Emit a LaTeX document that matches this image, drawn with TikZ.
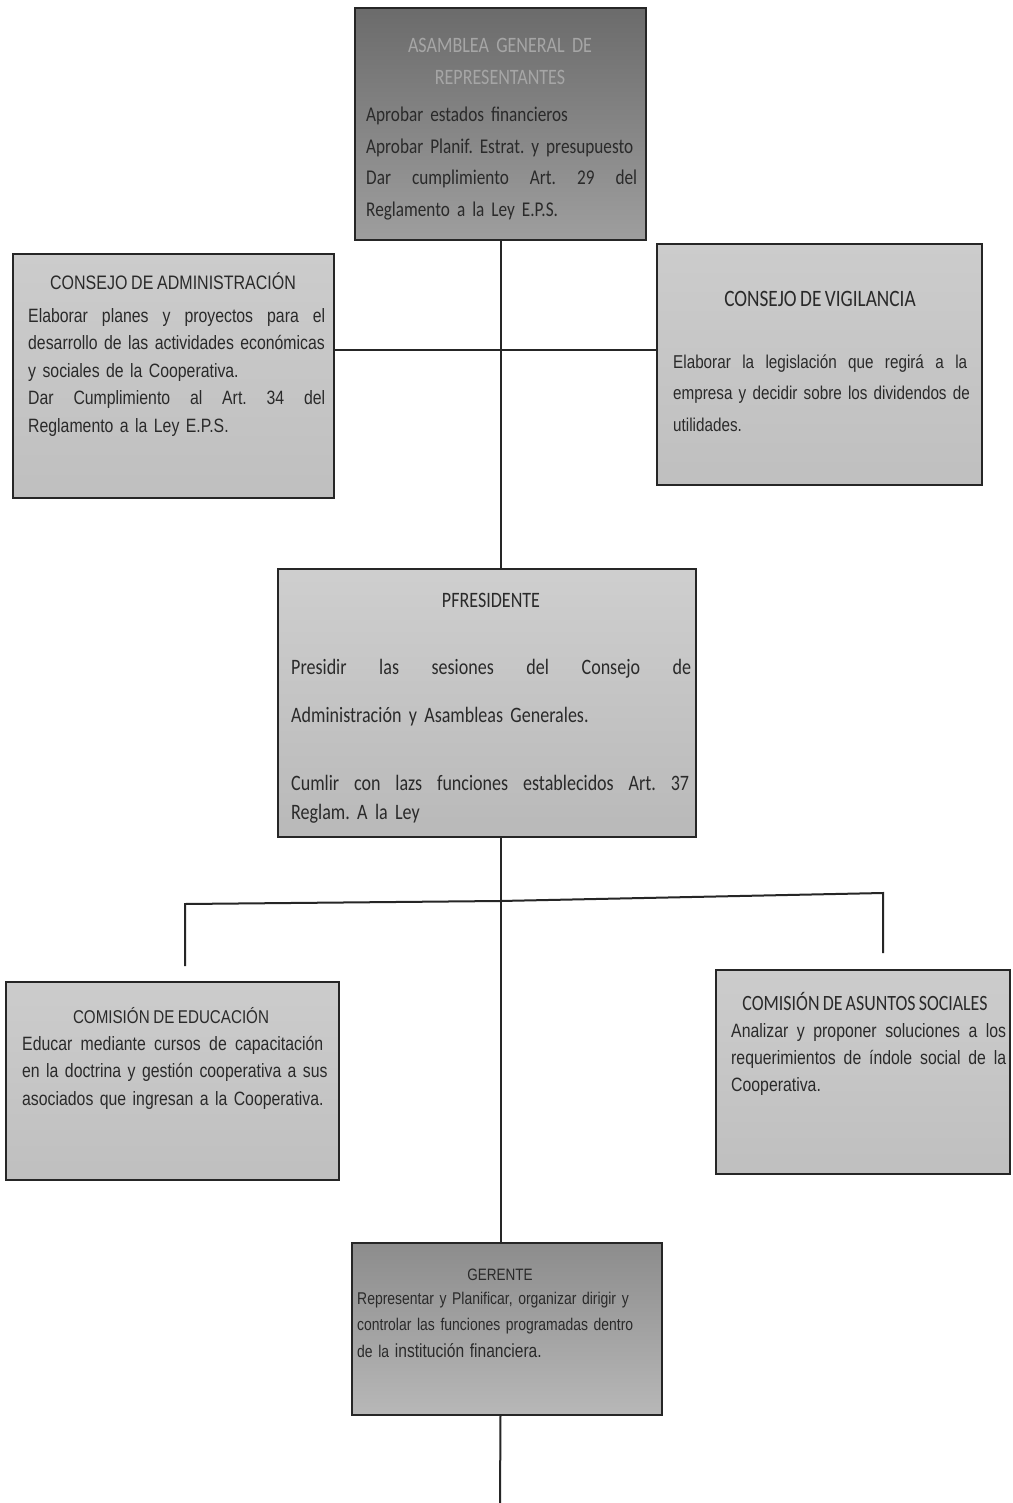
\documentclass[tikz,border=0pt]{standalone}
\usepackage{fontspec}
\newfontfamily\arialn{Liberation Sans}[FakeStretch=0.82, WordSpace=0.85]
\newfontfamily\calib{Carlito}[FakeStretch=0.82, WordSpace=0.8]
\definecolor{ink}{HTML}{2A2A2A}
% a line spread to a fixed width (extra \hfill after each word space)
\newcommand\jl[2]{\leavevmode\hbox to #1pt{#2}}
\begin{document}
\frenchspacing
\begin{tikzpicture}[x=1pt,y=-1pt,
  box/.style={draw=black!85, line width=1.2pt, inner sep=0pt, outer sep=0pt, anchor=north west},
  light/.style={box, top color=gray!40, bottom color=gray!50},
  link/.style={draw=black!85, line width=2pt},
  head/.style={anchor=base, inner sep=0pt, text=ink, align=center},
  body/.style={anchor=base west, inner sep=0pt, text=ink, align=left},
]
\useasboundingbox[fill=white] (0,0) rectangle (1012,1503);

% ---------- boxes ----------
\node[box, top color=black!58, bottom color=black!38,
      minimum width=291, minimum height=232] (asm) at (355,8) {};
\node[light, minimum width=321, minimum height=244] (adm) at (13,254) {};
\node[light, minimum width=325, minimum height=241] (vig) at (657,244) {};
\node[box, top color=gray!38, bottom color=gray!55,
      minimum width=418, minimum height=268] (pres) at (278,569) {};
\node[light, minimum width=333, minimum height=198] (edu) at (6,982) {};
\node[light, minimum width=294, minimum height=204] (soc) at (716,970) {};
\node[box, top color=black!45, bottom color=black!28,
      minimum width=310, minimum height=172] (ger) at (352,1243) {};

% ---------- texts ----------
% Asamblea General
\node[head, text=black!35, text width=290, font=\calib\fontsize{22}{32}\selectfont] (asmh) at (500,53)
  {ASAMBLEA GENERAL DE\\REPRESENTANTES};
\node[body, text width=340, font=\calib\fontsize{21}{31.5}\selectfont] (asmb) at (366,122)
  {Aprobar estados financieros\\
   Aprobar Planif. Estrat. y presupuesto\\
   \jl{271}{Dar \hfill cumplimiento \hfill Art. \hfill 29 \hfill del}\\
   Reglamento a la Ley E.P.S.};

% Consejo de Administracion
\node[head, font=\arialn\fontsize{19.5}{28}\selectfont] (admh) at (173,290)
  {CONSEJO DE ADMINISTRACIÓN};
\node[body, text width=360, font=\arialn\fontsize{19.3}{27.5}\selectfont] (admb) at (28,322)
  {\jl{297}{Elaborar \hfill planes \hfill y \hfill proyectos \hfill para \hfill el}\\
   desarrollo de las actividades económicas\\
   y sociales de la Cooperativa.\\
   \jl{297}{Dar \hfill Cumplimiento \hfill al \hfill Art. \hfill 34 \hfill del}\\
   Reglamento a la Ley E.P.S.};

% Consejo de Vigilancia
\node[head, font=\calib\fontsize{23.5}{28}\selectfont] (vigh) at (820,307)
  {CONSEJO DE VIGILANCIA};
\node[body, text width=360, font=\arialn\fontsize{18.6}{31.5}\selectfont] (vigb) at (673,368)
  {\jl{294}{Elaborar \hfill la \hfill legislación \hfill que \hfill regirá \hfill a \hfill la}\\
   \jl{294}{empresa \hfill y \hfill decidir \hfill sobre \hfill los \hfill dividendos \hfill de}\\
   utilidades.};

% Presidente
\node[head, font=\calib\fontsize{22}{28}\selectfont] (presh) at (491,607)
  {PFRESIDENTE};
\node[body, text width=460, font=\calib\fontsize{22}{48}\selectfont] (presa) at (291,674)
  {\jl{400}{Presidir \hfill las \hfill sesiones \hfill del \hfill Consejo \hfill de}\\
   Administración y Asambleas Generales.};
\node[body, text width=460, font=\calib\fontsize{22}{29}\selectfont] (presb) at (291,790)
  {\jl{398}{Cumlir \hfill con \hfill lazs \hfill funciones \hfill establecidos \hfill Art. \hfill 37}\\
   Reglam. A la Ley};

% Comision de Educacion
\node[head, font=\arialn\fontsize{18.5}{28}\selectfont] (eduh) at (171,1023)
  {COMISIÓN DE EDUCACIÓN};
\node[body, text width=360, font=\arialn\fontsize{19.3}{27.5}\selectfont] (edub) at (22,1050)
  {\jl{301}{Educar \hfill mediante \hfill cursos \hfill de \hfill capacitación}\\
   \jl{301}{en \hfill la \hfill doctrina \hfill y \hfill gestión \hfill cooperativa \hfill a \hfill sus}\\
   asociados que ingresan a la Cooperativa.};

% Comision de Asuntos Sociales
\node[head, font=\calib\fontsize{21.8}{28}\selectfont] (soch) at (865,1010)
  {COMISIÓN DE ASUNTOS SOCIALES};
\node[body, text width=340, font=\arialn\fontsize{19.3}{27}\selectfont] (socb) at (731,1037)
  {\jl{275}{Analizar \hfill y \hfill proponer \hfill soluciones \hfill a \hfill los}\\
   \jl{275}{requerimientos \hfill de \hfill índole \hfill social \hfill de \hfill la}\\
   Cooperativa.};

% Gerente
\node[head, font=\arialn\fontsize{16.5}{28}\selectfont] (gerh) at (500,1280)
  {GERENTE};
\node[body, text width=330, font=\arialn\fontsize{17}{26.5}\selectfont] (gerb) at (357,1304)
  {Representar y Planificar, organizar dirigir y\\
   controlar las funciones programadas dentro\\
   de la {\fontsize{19}{26.5}\selectfont institución financiera.}};

% ---------- connectors ----------
\coordinate (hy) at (500,350);
\coordinate (jn) at (500,901);
\coordinate (bl) at (185,904);
\coordinate (br) at (883,893);
\coordinate (blend) at (185,966);
\coordinate (brend) at (883,953);
\coordinate (tail) at (500,1503);

\draw[link] (asm.south) -- (asm.south |- pres.north);
\draw[link] (adm.east |- hy) -- (vig.west |- hy);
\draw[link] (asm.south |- pres.south) -- (asm.south |- ger.north);
\draw[link] (jn) -- (bl) -- (blend);
\draw[link] (jn) -- (br) -- (brend);
\draw[link] (asm.south |- ger.south) -- (tail);
\end{tikzpicture}
\end{document}
